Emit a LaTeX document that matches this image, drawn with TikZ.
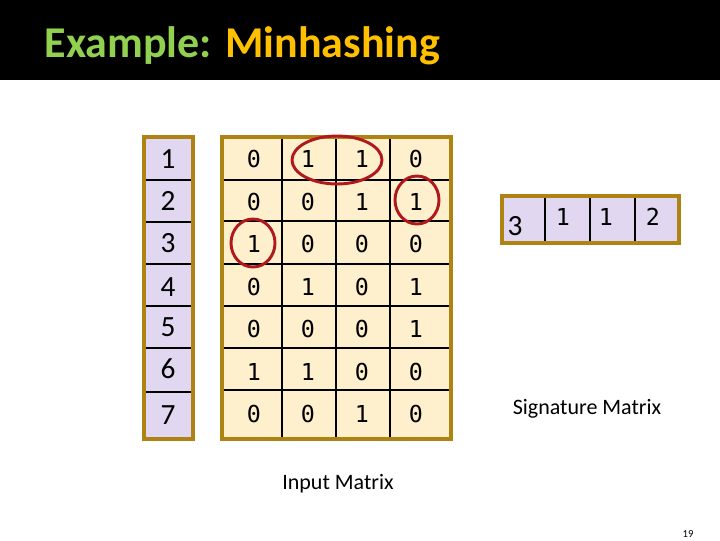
\documentclass[tikz,border=0pt]{standalone}
\usepackage{fontspec}
\setmainfont{Carlito}
\newfontfamily\monofont{DejaVu Sans Mono}
\begin{document}
\begin{tikzpicture}[x=0.75pt,y=-0.75pt,
  frame/.style={draw={rgb,255:red,175;green,130;blue,20},line width=3pt},
  grid/.style={black,line width=1.6pt},
  cell/.style={font=\monofont\fontsize{17.5}{17.5}\selectfont},
  idx/.style={font=\fontsize{22}{22}\selectfont},
  redring/.style={draw={rgb,255:red,175;green,25;blue,30},line width=2.2pt}]
\useasboundingbox (0,0) rectangle (720,540);
\fill[black] (0,0) rectangle (720,80);
\node[anchor=west,font=\bfseries\fontsize{33}{33}\selectfont] (title) at (40,46)
  {\textcolor[RGB]{146,208,80}{Example:} \textcolor[RGB]{255,192,0}{Minhashing}};
% left index column
\fill[fill={rgb,255:red,225;green,215;blue,240}] (144,137) rectangle (193,439);
\foreach \y in {180,222,264,306,348,392} \draw[grid] (142,\y) -- (195,\y);
\draw[frame] (144,137) rectangle (193,439);
\foreach \t/\y [count=\i] in {1/159,2/201,3/243,4/287,5/327,6/369,7/415}
  \node[idx] (r\i) at (168,\y) {\t};
% input matrix
\fill[fill={rgb,255:red,255;green,240;blue,205}] (222,137) rectangle (451,439);
\foreach \y in {180,221,264,306,348,390} \draw[grid] (222,\y) -- (453,\y);
\foreach \x in {282,336,390} \draw[grid] (\x,137) -- (\x,439);
\draw[frame] (222,137) rectangle (451,439);
\foreach \row [count=\r] in {{0,1,1,0},{0,0,1,1},{1,0,0,0},{0,1,0,1},{0,0,0,1},{1,1,0,0},{0,0,1,0}}
  \foreach \v [count=\c] in \row
    \node[cell] (m\r\c) at ({254+(\c-1)*54}, {159+(\r-1)*42.5}) {\v};
\draw[redring] (337,160) ellipse (45 and 24);
\draw[redring] (417,200) ellipse (22 and 24);
\draw[redring] (253,243) ellipse (22 and 24);
% signature
\fill[fill={rgb,255:red,225;green,215;blue,240}] (502,196) rectangle (679,243);
\foreach \x in {545,590,635} \draw[grid] (\x,196) -- (\x,243);
\draw[frame] (502,196) rectangle (679,243);
\node[idx] (s1) at (515,226) {3};
\node[cell] (s2) at (563,217) {1};
\node[cell] (s3) at (606,217) {1};
\node[cell] (s4) at (653,217) {2};
\node[font=\fontsize{16.5}{16.5}\selectfont] (sig) at (587,409) {Signature Matrix};
\node[font=\fontsize{16.5}{16.5}\selectfont] (inp) at (338,484) {Input Matrix};
\node[font=\fontsize{8}{8}\selectfont] (pg) at (688,534) {19};
\end{tikzpicture}
\end{document}
